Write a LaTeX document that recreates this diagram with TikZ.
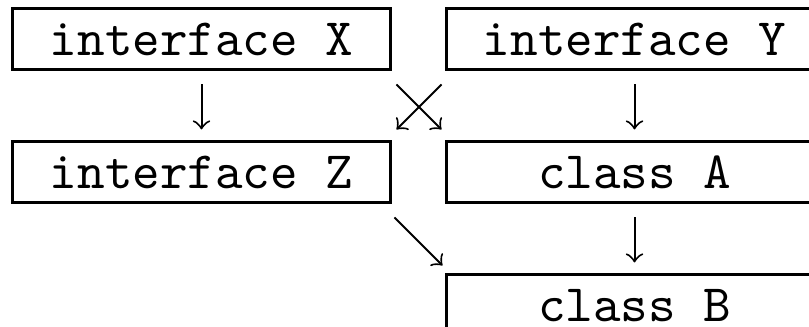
\documentclass[tikz,border=0pt]{standalone}
\usepackage{tikz}
\usetikzlibrary{arrows,positioning}

\begin{document}
\begin{tikzpicture}[x=0.2pt,y=-0.2pt,>=to,
    typebox/.style={draw,line width=0.6pt,minimum width=75.4pt,minimum height=12.2pt,
      inner sep=0pt,font=\fontsize{10.5}{12}\selectfont\ttfamily},
    link/.style={->,line width=0.4pt}]
    \useasboundingbox (0,0) rectangle (809,327);
    \node[typebox] (ifX) at (201.5,39.5) {interface X};
    \node[typebox] (ifY) [right = 10.6pt of ifX] {interface Y};
    \node[typebox] (ifZ) [below = 13.8pt of ifX] {interface Z};
    \node[typebox] (clA) [below = 13.8pt of ifY] {class A};
    \node[typebox] (clB) [below = 13.8pt of clA] {class B};
    % ends of the slanted arrows between the columns
    \coordinate (xs) at ([shift={(5,13)}]ifX.south east);
    \coordinate (ys) at ([shift={(-3,13)}]ifY.south west);
    \coordinate (zt) at ([shift={(5,-11)}]ifZ.north east);
    \coordinate (at) at ([shift={(-3,-11)}]clA.north west);
    \coordinate (zs) at ([shift={(3,13)}]ifZ.south east);
    \coordinate (bt) at ([shift={(-2,-8)}]clB.north west);
    \path[link,shorten <=2.6pt,shorten >=2.2pt]
    (ifX) edge (ifZ)
    (ifY) edge (clA)
    (clA) edge (clB);
    \path[link]
    (xs) edge (at)
    (ys) edge (zt)
    (zs) edge (bt);
  \end{tikzpicture}
\end{document}
